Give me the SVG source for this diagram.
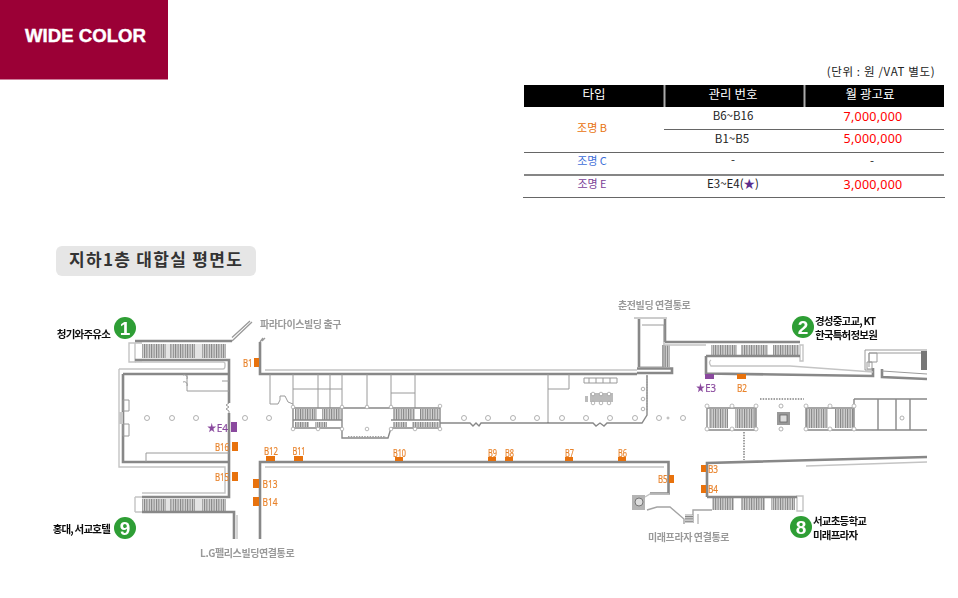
<svg xmlns="http://www.w3.org/2000/svg" width="958" height="598" viewBox="0 0 958 598">
<style>
text{font-family:"Noto Sans CJK KR","Noto Sans",sans-serif}
.t{font-size:11.5px;text-anchor:middle}
.c1{font-size:11px;text-anchor:middle}
.th{font-size:12.5px;text-anchor:middle;fill:#fff}
.r{fill:#f00;font-size:12.5px;text-anchor:middle;letter-spacing:.25px;font-family:"Noto Sans",sans-serif}
.rl{stroke:#666;stroke-width:1.2;fill:none}
.w{fill:none;stroke:#888;stroke-width:2.6}
.n{fill:none;stroke:#9a9a9a;stroke-width:1}
.l{fill:none;stroke:#c4c4c4;stroke-width:1.4}
.c{fill:#fff;stroke:#a8a8a8;stroke-width:.9}
.d{fill:none;stroke:#a0a0a0;stroke-width:2;stroke-dasharray:1.5 1.2}
.o{fill:#e8720c}
.p{fill:#8a4a9e}
.ot{fill:#e8832c;stroke:#e8832c;stroke-width:.2;font-size:11.500px;font-family:"Noto Sans",sans-serif}
.pt{fill:#8a4a9e;stroke:#8a4a9e;stroke-width:.2;font-size:11.500px;font-family:"Noto Sans",sans-serif}
.g{fill:#999;font-size:10px;font-weight:700;letter-spacing:-.4px}
.b{fill:#111;font-size:10.5px;font-weight:700;letter-spacing:-.8px}
.gc{fill:#2e9e34}
.gn{fill:#fff;font-size:19px;font-weight:700;text-anchor:middle;font-family:"Liberation Sans",sans-serif}
</style>
<defs>
<pattern id="hat" width="2.4" height="8" patternUnits="userSpaceOnUse"><rect width="2.4" height="8" fill="#d4d4d4"/><rect width="1" height="8" fill="#808080"/></pattern>
<pattern id="hatH" width="8" height="2.4" patternUnits="userSpaceOnUse"><rect width="8" height="2.4" fill="#d4d4d4"/><rect width="8" height="1" fill="#808080"/></pattern>
<filter id="soft" x="0" y="0" width="1" height="1"><feGaussianBlur stdDeviation="0.4"/></filter>
</defs>

<g id="badge"><rect width="168" height="79.500" fill="#9b0036"/><text x="25" y="42" font-size="18" font-weight="700" fill="#fff" stroke="#fff" stroke-width=".4" textLength="121" lengthAdjust="spacingAndGlyphs" style="font-family:'Liberation Sans',sans-serif">WIDE COLOR</text></g>

<g id="price-table">
<text x="881" y="76" class="t" fill="#222" letter-spacing=".65">(단위 : 원 /VAT 별도)</text>
<rect x="524" y="85" width="420" height="22" fill="#000"/>
<path d="M664.500 85v22M804.500 85v22" stroke="#aaa" stroke-width="2"/>
<text x="594" y="99" class="th">타입</text><text x="733" y="99" class="th">관리 번호</text><text x="870" y="99" class="th">월 광고료</text>
<path class="rl" d="M664 129.500H944M524 152.500H944M524 175H944M523 197.500H945"/>
<path d="M524 175H944" stroke="#777" stroke-width="1.500"/>
<text x="592" y="132" class="c1" fill="#e8720c">조명 B</text>
<text x="592" y="165" class="c1" fill="#3f6fd8">조명 C</text>
<text x="592" y="188" class="c1" fill="#7b3f98">조명 E</text>
<text x="733" y="120" class="t" fill="#222">B6~B16</text>
<text x="732" y="143" class="t" fill="#222">B1~B5</text>
<text x="733" y="164" class="t" fill="#222">-</text>
<text x="733" y="188" class="t" fill="#222">E3~E4(<tspan fill="#5b2d8c">★</tspan>)</text>
<text x="873" y="121" class="r">7,000,000</text>
<text x="873" y="143" class="r">5,000,000</text>
<text x="872" y="165" class="t" fill="#222">-</text>
<text x="873" y="189" class="r">3,000,000</text>
</g>

<g id="plan-title"><rect x="56" y="246" width="200" height="30" rx="6" fill="#e6e6e6"/><text x="69" y="266" font-size="17" font-weight="700" fill="#333" letter-spacing="1.300">지하1층 대합실 평면도</text></g>

<g id="plan" filter="url(#soft)">
<g id="escalators">
<path fill="url(#hat)" d="M142 344h24v14h-24zM170 344h25v14h-25zM202 344h24v14h-24zM142 499h24v12h-24zM170 499h25v12h-25zM202 499h24v12h-24zM711 345h26v11h-26zM741 345h27v11h-27zM773 345h26v11h-26zM712 498h22v12h-22zM741 498h24v12h-24zM771 498h24v12h-24zM709 409h19v19h-19zM735 409h21v19h-21zM806 409h22v19h-22zM835 409h19v19h-19zM295 409h22v11h-22zM322 409h19v11h-19zM393 409h22v11h-22zM420 409h19v11h-19z"/>
<path fill="url(#hat)" d="M295 422h14v5h-14zM315 422h12v5h-12zM393 422h14v5h-14zM412 422h27v5h-27zM662 345h8v22h-8z"/>
<path fill="#e4e4e4" d="M166 344h4v14h-4zM195 344h7v14h-7zM166 499h4v12h-4zM195 499h7v12h-7z"/>
<path class="l" d="M129 343h6v19h-6zM135 343h7M135 361h7M135 497h7M135 512h7M135 497v15M800 345h3v16h-3zM797 496h6v15h-6z"/>
</g>
<path class="w" d="M135 341H232M135 360H229V403M229 413V497H142M142 512H234V539M260 539V462H668.500V493.500H650M260 342V374H637M123 374H229M123 374V462H229"/>
<path class="n" style="stroke-width:1.300" d="M232 341L252 322M232 337.500L250 321M263 338L260 342M265 338L262 341"/>
<path class="l" d="M119 369H223Q225 369 225 366V364Q225 362 223 362H135M119 369V467H225V493H142M265 370H637M265 467H664M237 515V539"/>
<path class="n" d="M123 400h6v11h-6zM123 424h6v12h-6zM146 462V453H229M187 375v16h42M229 403l-3 2 3 2-3 2 3 2 0 2"/>
<path fill="#c8c8c8" d="M119 412h4v12h-4z"/>
<path class="n" d="M183 375a3 3 0 0 1 4 4M183 382a3 3 0 0 1 4 4M222 381h7"/>
<path class="n" d="M293 374v34M318 374v34M330 374v34M342 374v34M367 374v34M391 374v34M415 374v34M293 389h49M391 393h24M548 374v49M548 389h21V374M270 374v30h8l2-4v-4h5l3 6 5 2"/>
<path class="w" style="stroke-width:1.400" d="M293 408H440M293 428H342M391 428H440M293 420h49M391 420h49M293 408v20M440 408v20M342 408v30h46l3-10M440 423h30l3 3 3-3 3 3 2-3h67v-1M548 423H593l3 3 4-3 4 3 3-3h35l5-8V375"/>
<path class="d" d="M348 437H386M647 376V410M760 399H804M744 432V460"/>
<g fill="#fff" stroke="#aaa" stroke-width=".8"><circle cx="293" cy="429" r="1.800"/><circle cx="318" cy="429" r="1.800"/><circle cx="342" cy="429" r="1.800"/><circle cx="367" cy="429" r="1.800"/><circle cx="391" cy="429" r="1.800"/><circle cx="415" cy="429" r="1.800"/><circle cx="440" cy="429" r="1.800"/><circle cx="440" cy="406" r="1.800"/><circle cx="293" cy="407" r="1.800"/><circle cx="342" cy="407" r="1.800"/><circle cx="367" cy="407" r="1.800"/><circle cx="391" cy="407" r="1.800"/></g>
<path class="n" d="M584 378h33v5h-33zM589 378v5M596 378v5M603 378v5M610 378v5"/>
<path fill="#bbb" d="M585 396h3v6h-3zM590 393h23v9h-23z"/>
<g fill="#fff" stroke="#999" stroke-width=".7"><circle cx="593" cy="394" r="1.800"/><circle cx="601" cy="394" r="1.800"/><circle cx="609" cy="394" r="1.800"/><circle cx="593" cy="403" r="1.800"/><circle cx="601" cy="403" r="1.800"/><circle cx="609" cy="403" r="1.800"/></g>
<g class="columns">
<circle class="c" cx="147" cy="418" r="2.500"/><circle class="c" cx="172" cy="418" r="2.500"/><circle class="c" cx="196" cy="418" r="2.500"/><circle class="c" cx="245" cy="418" r="2.500"/><circle class="c" cx="269" cy="418" r="2.500"/><circle class="c" cx="464" cy="418" r="2.500"/><circle class="c" cx="488" cy="418" r="2.500"/><circle class="c" cx="513" cy="418" r="2.500"/><circle class="c" cx="537" cy="418" r="2.500"/><circle class="c" cx="562" cy="418" r="2.500"/><circle class="c" cx="586" cy="418" r="2.500"/><circle class="c" cx="610" cy="418" r="2.500"/><circle class="c" cx="635" cy="418" r="2.500"/><circle class="c" cx="659" cy="418" r="2.500"/><circle class="c" cx="683" cy="418" r="2.500"/><circle class="c" cx="668" cy="418" r="1"/><circle class="c" cx="781" cy="429" r="2"/><circle class="c" cx="781" cy="406" r="2"/><circle class="c" cx="902" cy="418" r="2"/>
<circle class="c" cx="643" cy="389" r="1.800"/><circle class="c" cx="643" cy="399" r="1.800"/><circle class="c" cx="643" cy="409" r="1.800"/>
</g>
<path class="w" d="M665 342H800M706 356H800M706 356V373.500L873 376V368M882 369V377L927 379M639 319V367M637 368.500H672V373H637M665 319V342"/>
<path class="n" d="M634 318H667M642 325H664M664 325V367M640 367H664"/>
<path class="l" d="M711 360Q708 362 711 366H790L873 372M665 345H706"/>
<path class="n" d="M882 371L927 374M865 350H927M865 350V370H872M869 353H927M869 353V367"/>
<rect x="921" y="351" width="6" height="19" fill="#777"/>
<path class="n" d="M867 362h5v7h-5zM869 353h8v9h-8z"/>
<path class="w" style="stroke-width:1.400" d="M707 408H756V430H707zM806 408H854V430H806zM854 399H927M854 430H927M854 399V430M878 399V430M896 399V430M910 399V430"/>
<g fill="#fff" stroke="#aaa" stroke-width=".8"><circle cx="707" cy="406" r="2"/><circle cx="732" cy="406" r="2"/><circle cx="756" cy="406" r="2"/><circle cx="707" cy="429" r="2"/><circle cx="732" cy="429" r="2"/><circle cx="756" cy="429" r="2"/><circle cx="806" cy="429" r="2"/><circle cx="830" cy="429" r="2"/><circle cx="854" cy="429" r="2"/><circle cx="806" cy="406" r="2"/><circle cx="830" cy="406" r="2"/><circle cx="854" cy="406" r="2"/></g>
<rect x="777" y="412" width="13" height="13" fill="#999"/><rect x="780" y="415" width="7" height="7" fill="#ddd" stroke="#666" stroke-width=".8"/>
<path class="w" d="M707 497V463L927 457M707 497H797"/>
<path class="l" d="M806 466L927 462"/>
<path class="l" style="stroke:#a4a4a4" d="M712 510H693V523M684 524V519L670 507H657L647 510"/>
<path class="l" d="M669 494H650L645 497"/>
<path class="n" d="M698 514V524M685 515H693"/>
<path fill="#b4b4b4" d="M632 495h13v15h-13z"/><circle cx="639" cy="502" r="4" fill="#ddd" stroke="#777"/>
<path fill="url(#hatH)" d="M685 515h8v8h-8z"/>
<g id="B1"><rect class="o" x="254" y="358" width="5" height="9"/><text class="ot" x="243" y="366.500" textLength="9.500" lengthAdjust="spacingAndGlyphs">B1</text></g>
<g id="B2"><rect class="o" x="737" y="374" width="9" height="5"/><text class="ot" x="737" y="392" textLength="10" lengthAdjust="spacingAndGlyphs">B2</text></g>
<g id="B3"><rect class="o" x="701" y="465" width="5" height="7"/><text class="ot" x="708" y="473" textLength="10" lengthAdjust="spacingAndGlyphs">B3</text></g>
<g id="B4"><rect class="o" x="701" y="485" width="5" height="8"/><text class="ot" x="708" y="493" textLength="10" lengthAdjust="spacingAndGlyphs">B4</text></g>
<g id="B5"><rect class="o" x="669" y="475" width="5" height="8"/><text class="ot" x="658" y="483" textLength="9.500" lengthAdjust="spacingAndGlyphs">B5</text></g>
<g id="B6"><rect class="o" x="618" y="457" width="8" height="4"/><text class="ot" x="618" y="456.500" textLength="9" lengthAdjust="spacingAndGlyphs">B6</text></g>
<g id="B7"><rect class="o" x="565" y="457" width="8" height="4"/><text class="ot" x="565" y="456.500" textLength="9" lengthAdjust="spacingAndGlyphs">B7</text></g>
<g id="B8"><rect class="o" x="505" y="457" width="8" height="4"/><text class="ot" x="505" y="456.500" textLength="9" lengthAdjust="spacingAndGlyphs">B8</text></g>
<g id="B9"><rect class="o" x="488" y="457" width="8" height="4"/><text class="ot" x="488" y="456.500" textLength="9" lengthAdjust="spacingAndGlyphs">B9</text></g>
<g id="B10"><rect class="o" x="395" y="457" width="8" height="4"/><text class="ot" x="393" y="456.500" textLength="13" lengthAdjust="spacingAndGlyphs">B10</text></g>
<g id="B11"><rect class="o" x="294" y="456" width="9" height="5"/><text class="ot" x="292.500" y="455" textLength="13" lengthAdjust="spacingAndGlyphs">B11</text></g>
<g id="B12"><rect class="o" x="266" y="456" width="9" height="5"/><text class="ot" x="264" y="455" textLength="14" lengthAdjust="spacingAndGlyphs">B12</text></g>
<g id="B13"><rect class="o" x="253" y="479" width="6" height="9"/><text class="ot" x="262.500" y="488" textLength="15" lengthAdjust="spacingAndGlyphs">B13</text></g>
<g id="B14"><rect class="o" x="253" y="497" width="6" height="9"/><text class="ot" x="262.500" y="506" textLength="15" lengthAdjust="spacingAndGlyphs">B14</text></g>
<g id="B15"><rect class="o" x="232" y="472" width="6" height="9"/><text class="ot" x="215" y="481" textLength="14" lengthAdjust="spacingAndGlyphs">B15</text></g>
<g id="B16"><rect class="o" x="232" y="442" width="6" height="9"/><text class="ot" x="215" y="451" textLength="14" lengthAdjust="spacingAndGlyphs">B16</text></g>
<g id="E3"><rect class="p" x="705" y="374" width="9" height="5"/><text class="pt" x="696" y="392" textLength="20" lengthAdjust="spacingAndGlyphs">★E3</text></g>
<g id="E4"><rect class="p" x="231" y="422" width="6" height="10"/><text class="pt" x="207" y="432" textLength="21" lengthAdjust="spacingAndGlyphs">★E4</text></g>
<g id="exit-1"><circle class="gc" cx="125" cy="328" r="11"/><text class="gn" x="125" y="335">1</text><text class="b" x="110" y="338" text-anchor="end">청기와주유소</text></g>
<g id="exit-9"><circle class="gc" cx="125" cy="528" r="11"/><text class="gn" x="125" y="535">9</text><text class="b" x="110" y="533" text-anchor="end">홍대, 서교호텔</text></g>
<g id="exit-2"><circle class="gc" cx="803" cy="327" r="11"/><text class="gn" x="803" y="334">2</text><text class="b" x="815" y="325">경성중고교, KT</text><text class="b" x="815" y="339">한국특허정보원</text></g>
<g id="exit-8"><circle class="gc" cx="801" cy="527" r="11"/><text class="gn" x="801" y="534">8</text><text class="b" x="813" y="525">서교초등학교</text><text class="b" x="813" y="539">미래프라자</text></g>
<text class="g" x="260" y="328">파라다이스빌딩 출구</text>
<text class="g" x="618" y="309">춘전빌딩 연결통로</text>
<text class="g" x="200" y="557">L.G펠리스빌딩연결통로</text>
<text class="g" x="648" y="541">미래프라자 연결통로</text>
</g>
</svg>
